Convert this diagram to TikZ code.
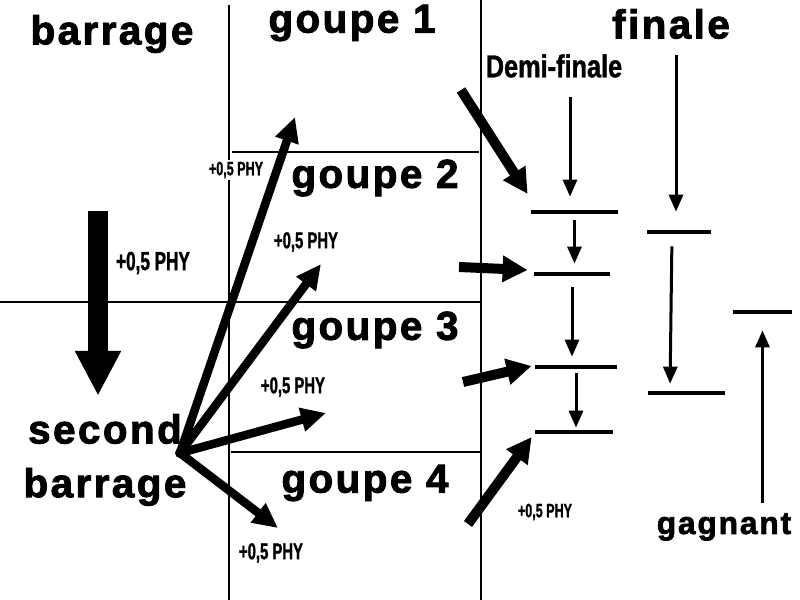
\documentclass[tikz,border=0pt]{standalone}
\usepackage{fontspec}
\setmainfont{Liberation Sans}
\newfontfamily\headfont[FakeBold=2.2,LetterSpace=6]{Liberation Sans Bold}
\newfontfamily\narrowfont[FakeStretch=0.65,FakeBold=1.2]{Liberation Sans Bold}
\newfontfamily\demifont[FakeStretch=0.8,FakeBold=1.2]{Liberation Sans Bold}
\usetikzlibrary{arrows.meta,calc,positioning}

\begin{document}
\begin{tikzpicture}[
  x=0.2mm,y=-0.2mm,
  phase/.style={font=\headfont\fontsize{23}{30.6}\selectfont,inner sep=0pt,align=center},
  bonus/.style={font=\narrowfont\fontsize{13}{15}\selectfont,inner sep=1pt},
  grid/.style={line width=0.4mm},
  bar/.style={fill=black,inner sep=0pt,minimum height=0.8mm},
  drop/.style={-{Triangle[length=9mm,width=8.6mm]},line width=4mm},
  push/.style={-{Triangle[length=5mm,width=4.6mm]},line width=1.7mm},
  feed/.style={-{Triangle[length=5mm,width=5mm]},line width=2mm},
  flow/.style={-{Triangle[length=3.4mm,width=2.8mm]},line width=0.6mm}
]
\useasboundingbox (0,0) rectangle (800,600);

% columns and groups
\draw[grid] (229,5) -- (229,600);
\draw[grid] (481,0) -- (481,600);
\draw[grid] (232,152) -- (479,152);
\draw[grid] (0,302) -- (481,302);
\draw[grid] (231,452) -- (481,452);

% titles
\node[phase] (barrage) at (112,34) {barrage};
\node[phase] (g1) at (352,23) {goupe 1};
\node[phase] (g2) at (375,178) {goupe 2};
\node[phase] (g3) at (375,330) {goupe 3};
\node[phase] (g4) at (365,483) {goupe 4};
\node[phase] (second) at (105,460) {second\\barrage};
\node[phase] (finale) at (671,24) {finale};
\node[phase,font=\headfont\fontsize{18}{22}\selectfont] (gagnant) at (724,527) {gagnant};
\node[bonus,font=\demifont\fontsize{18}{21}\selectfont] (demi) at (554,66) {Demi-finale};

% first barrage drop
\coordinate (dropTop) at (98,211);
\draw[drop,shorten >=3.6mm] (dropTop) -- (dropTop |- second.north);
\node[bonus,font=\narrowfont\fontsize{15}{18}\selectfont] (b0) at (153,263) {+0,5 PHY};

% second barrage to the groups
\node[circle,fill=black,inner sep=0pt,minimum size=2mm] (hub) at (180,453) {};
\coordinate (g1tip) at (295,117);
\coordinate (g2tip) at (321,264);
\coordinate (g3tip) at (326,413);
\coordinate (g4tip) at (278,528);
\draw[push] (hub.center) -- (g1tip);
\draw[push] (hub.center) -- (g2tip);
\draw[push] (hub.center) -- (g3tip);
\draw[push] (hub.center) -- (g4tip);
\node[bonus,fill=white,font=\narrowfont\fontsize{11}{13}\selectfont] (b1) at (236,170) {+0,5 PHY};
\node[bonus] (b2) at (306,242) {+0,5 PHY};
\node[bonus] (b3) at (293,387) {+0,5 PHY};
\node[bonus] (b4) at (271,553) {+0,5 PHY};

% semi-final bars
\node[bar,minimum width=17.4mm] (sf1) at (574.5,212) {};
\node[bar,minimum width=15.2mm] (sf2) at (572,274) {};
\node[bar,minimum width=16.4mm] (sf3) at (576,367) {};
\node[bar,minimum width=15.6mm] (sf4) at (574,432) {};

% final and winner bars
\node[bar,minimum width=12.8mm] (f1) at (679,232) {};
\node[bar,minimum width=15.4mm] (f2) at (686.5,393) {};
\node[bar,minimum width=11.8mm] (win) at (762.5,312) {};

% groups into the semi-finals
\coordinate (q1) at (461,90);
\coordinate (q2) at (459,267);
\coordinate (q3) at (463,382);
\coordinate (q4) at (468,524);
\draw[feed] (q1) -- ([xshift=-0.6mm,yshift=3.6mm]sf1.west);
\draw[feed] (q2) -- ([xshift=-1.2mm,yshift=0.8mm]sf2.west);
\draw[feed] (q3) -- ([xshift=-0.6mm,yshift=0.2mm]sf3.west);
\draw[feed] (q4) -- ([xshift=-0.6mm,yshift=-1mm]sf4.west);
\node[bonus,font=\narrowfont\fontsize{11}{13}\selectfont] (b5) at (545,512) {+0,5 PHY};

% semi-final ladder
\coordinate (demiArrow) at (570,97);
\draw[flow,shorten >=2.6mm] (demiArrow) -- (demiArrow |- sf1.north);
\draw[flow,shorten <=1.2mm,shorten >=1.6mm] (sf1.south) -- (sf1.south |- sf2.north);
\draw[flow,shorten <=2.2mm,shorten >=1.6mm] (sf2.south) -- (sf2.south |- sf3.north);
\draw[flow,shorten <=0.8mm,shorten >=0.4mm] (sf3.south) -- (sf3.south |- sf4.north);

% final ladder
\coordinate (finArrow) at (676,55);
\draw[flow,shorten >=3.6mm] (finArrow) -- (finArrow |- f1.north);
\draw[flow,shorten <=2.4mm,shorten >=1.4mm] ([xshift=-1.4mm]f1.south) -- ([xshift=-3.3mm]f2.north);
\draw[flow,shorten >=3.2mm] ($(gagnant.north -| win.south)+(0,-10)$) -- (win.south);
\end{tikzpicture}
\end{document}
